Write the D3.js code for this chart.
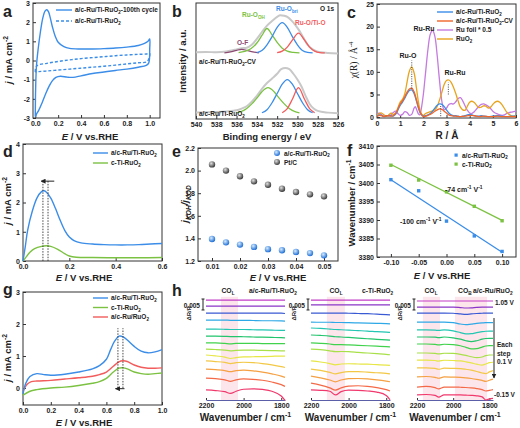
<!DOCTYPE html>
<html><head><meta charset="utf-8">
<script src="https://cdn.jsdelivr.net/npm/d3@7"></script>
<style>body{margin:0;background:#fff}svg{display:block}</style>
</head><body><svg id="fig" width="520" height="428"></svg>
<script>
// ================= DATA =================
// (a) CV curves [E, j]
const cvCycle100 = [[0.0,-2.9],[0.003,-1.5],[0.01,-0.3],[0.025,0.6],[0.045,1.5],[0.065,2.2],[0.085,2.58],[0.1,2.65],[0.115,2.55],[0.13,2.25],[0.15,1.75],[0.175,1.25],[0.2,0.95],[0.25,0.72],[0.3,0.63],[0.4,0.6],[0.5,0.6],[0.6,0.62],[0.7,0.65],[0.8,0.7],[0.9,0.78],[0.95,0.88],[0.985,1.0],[1.0,1.12],[1.0,0.6],[0.998,0.1],[0.99,-0.15],[0.97,-0.25],[0.9,-0.35],[0.8,-0.45],[0.7,-0.52],[0.6,-0.6],[0.5,-0.68],[0.4,-0.8],[0.33,-0.88],[0.28,-0.87],[0.22,-0.82],[0.18,-0.88],[0.15,-1.05],[0.12,-1.35],[0.09,-1.75],[0.06,-2.2],[0.03,-2.6],[0.01,-2.8],[0.0,-2.95]];
const cvInitial = [[0,-0.6],[0.003,-0.4],[0.02,-0.25],[0.1,-0.15],[0.2,-0.05],[0.3,0.03],[0.4,0.1],[0.5,0.15],[0.6,0.2],[0.7,0.25],[0.8,0.29],[0.9,0.32],[0.97,0.34],[1.0,0.36],[1.0,0.25],[0.99,0.05],[0.97,-0.08],[0.9,-0.12],[0.8,-0.18],[0.7,-0.24],[0.6,-0.3],[0.5,-0.35],[0.4,-0.4],[0.3,-0.45],[0.2,-0.5],[0.1,-0.55],[0.03,-0.58],[0,-0.6]];
const aXTicks = [0,0.2,0.4,0.6,0.8,1.0];
const aYTicks = [-3,-2,-1,0,1,2,3];

// (b) XPS O 1s [binding energy, intensity a.u.]
const xpsCVEnvelope = [[540,57.5],[539,57.8],[538,57.5],[537,58.2],[536.5,59],[536,60],[535.5,61],[535,61.5],[534.5,64],[534,69],[533.5,75],[533,80.5],[532.5,84.5],[532,88],[531.7,89.5],[531.3,89],[531,88],[530.6,85],[530.2,81],[529.8,76],[529.4,70],[529,64],[528.5,60],[528,58],[527,57],[526,56.5]];
const xpsCV_OF = [[537.2,57],[536.6,57.8],[536,59.2],[535.5,60],[535,59.2],[534.4,57.8],[533.8,57]];
const xpsCV_OH = [[535.8,57.2],[535.2,58.2],[534.6,60.5],[534,65.5],[533.5,72],[533,78],[532.5,72.5],[532,66],[531.5,61],[531,58.5],[530.4,57.4],[529.8,57]];
const xpsCV_bri = [[534,57.3],[533.5,59],[533,64],[532.5,71],[532,79],[531.5,83],[531,79],[530.5,71],[530,64],[529.5,59],[529,57.4],[528.5,57]];
const xpsCV_TiO = [[532,57.2],[531.5,58.5],[531,62],[530.5,68],[529.9,74],[529.3,68],[528.8,62],[528.3,58.5],[527.8,57.2],[527.3,57]];
const xpsEnvelope = [[540,5.5],[539,5.8],[538,6],[537,6.5],[536,7.5],[535.5,9],[535,11],[534.5,15],[534,20],[533.5,26],[533,31],[532.5,35],[532,39],[531.6,43],[531.2,44],[530.8,43],[530.4,39],[530,34],[529.6,28],[529.2,20],[528.8,13],[528.4,9],[528,7],[527,5.5],[526,5]];
const xps_OH = [[536,5.3],[535.5,6.5],[535,9],[534.5,13],[534,18],[533.5,23.5],[532.9,27],[532.3,23.5],[531.8,18],[531.3,13],[530.8,9],[530.3,6.5],[529.8,5.3]];
const xps_bri = [[533.5,5.4],[533,8],[532.5,14],[532,22],[531.5,30],[531,34],[530.5,30],[530,22],[529.5,14],[529,8],[528.5,5.4]];
const xps_TiO = [[531.5,5.4],[531,9],[530.5,17],[529.9,27],[529.3,17],[528.8,9],[528.3,5.4]];
const bXTicks = [540,538,536,534,532,530,528,526];

// (c) EXAFS chi(R) [R, chi]
const exRuTi = [[0,0.2],[0.1,0.5],[0.2,0.4],[0.3,0.1],[0.4,0.2],[0.5,0.4],[0.6,0.3],[0.7,0.2],[0.8,0.6],[0.9,1.5],[1.0,2.6],[1.1,3.3],[1.2,4.2],[1.3,5.2],[1.4,5.9],[1.5,6.0],[1.6,5.2],[1.7,3.6],[1.8,1.8],[1.9,0.6],[2.0,0.2],[2.1,0.3],[2.2,0.5],[2.3,0.8],[2.4,1.3],[2.5,2.0],[2.6,2.6],[2.7,2.9],[2.8,2.8],[2.9,2.3],[3.0,1.6],[3.1,0.9],[3.2,0.5],[3.3,0.3],[3.4,0.3],[3.5,0.2],[3.6,0.1],[3.7,0.2],[3.8,0.3],[3.9,0.5],[4.0,0.6],[4.1,0.5],[4.2,0.3],[4.3,0.2],[4.4,0.2],[4.5,0.3],[4.6,0.2],[4.8,0.1],[5.0,0.2],[5.2,0.3],[5.4,0.2],[5.6,0.1],[5.8,0.2],[6.0,0.2]];
const exRuTiCV = [[0,0.1],[0.1,0.4],[0.2,0.3],[0.3,0.1],[0.4,0.3],[0.5,0.3],[0.6,0.2],[0.7,0.3],[0.8,0.8],[0.9,1.8],[1.0,2.9],[1.1,3.6],[1.2,4.5],[1.3,5.5],[1.4,6.2],[1.5,6.4],[1.6,5.6],[1.7,3.9],[1.8,2.0],[1.9,0.7],[2.0,0.1],[2.1,0.2],[2.2,0.4],[2.3,0.6],[2.4,0.9],[2.5,1.3],[2.6,1.6],[2.7,1.8],[2.8,1.7],[2.9,1.3],[3.0,0.9],[3.1,0.5],[3.2,0.3],[3.3,0.2],[3.4,0.2],[3.6,0.1],[3.8,0.2],[4.0,0.4],[4.2,0.3],[4.4,0.1],[4.6,0.2],[4.8,0.1],[5.0,0.1],[5.2,0.2],[5.4,0.1],[5.6,0.1],[5.8,0.1],[6.0,0.1]];
const exRuFoil = [[0,0.6],[0.1,0.9],[0.2,0.5],[0.3,0.2],[0.4,0.3],[0.5,0.2],[0.6,0.5],[0.7,1.0],[0.8,1.3],[0.9,0.8],[1.0,0.4],[1.1,0.6],[1.2,1.2],[1.3,1.0],[1.4,0.4],[1.5,0.6],[1.6,2.0],[1.65,2.3],[1.7,1.8],[1.8,0.6],[1.85,0.5],[1.9,1.5],[2.0,5.0],[2.1,10.0],[2.2,15.0],[2.3,18.3],[2.4,19.2],[2.5,17.8],[2.6,13.5],[2.7,8.0],[2.8,3.5],[2.9,1.6],[3.0,2.0],[3.1,2.8],[3.2,3.0],[3.3,2.9],[3.4,3.4],[3.5,4.1],[3.6,4.3],[3.7,3.6],[3.8,2.5],[3.9,1.5],[4.0,0.9],[4.1,0.8],[4.2,1.2],[4.3,1.8],[4.4,2.4],[4.5,2.8],[4.6,2.9],[4.7,2.7],[4.8,2.4],[4.9,1.9],[5.0,1.3],[5.1,0.9],[5.2,0.7],[5.3,0.5],[5.4,0.4],[5.5,0.5],[5.6,0.8],[5.7,1.0],[5.8,1.1],[5.9,1.2],[6.0,1.3]];
const exRuO2 = [[0,0.3],[0.1,0.8],[0.2,0.9],[0.3,0.5],[0.4,0.1],[0.5,0.4],[0.6,0.9],[0.7,0.6],[0.8,0.8],[0.9,2.0],[1.0,3.3],[1.1,3.9],[1.2,5.2],[1.3,7.8],[1.4,10.2],[1.5,11.1],[1.6,9.8],[1.7,6.5],[1.8,3.0],[1.9,0.9],[2.0,0.4],[2.1,0.8],[2.2,1.0],[2.3,1.2],[2.4,1.4],[2.5,1.6],[2.6,2.4],[2.7,3.8],[2.8,5.5],[2.9,7.2],[3.0,8.1],[3.1,8.2],[3.2,7.7],[3.3,6.6],[3.4,5.2],[3.5,3.6],[3.6,2.2],[3.7,1.6],[3.8,1.5],[3.9,2.4],[4.0,3.3],[4.1,3.5],[4.2,3.2],[4.3,2.6],[4.4,2.1],[4.5,2.2],[4.6,2.5],[4.7,2.4],[4.8,2.0],[4.9,2.2],[5.0,2.8],[5.1,3.3],[5.2,3.5],[5.3,3.3],[5.4,2.7],[5.5,1.9],[5.6,1.1],[5.7,0.6],[5.8,0.3],[5.9,0.2],[6.0,0.3]];
const cMarks = [[1.5,6.3,12.5],[2.75,0.2,2.7],[3.08,5.0,7.6]];
const cXTicks = [0,1,2,3,4,5,6];
const cYTicks = [0,5,10,15,20,25];

// (d) HUPD region [E, j]
const dRuTi = [[0,0],[0.01,0.5],[0.02,1.05],[0.04,1.7],[0.06,2.15],[0.08,2.37],[0.09,2.4],[0.1,2.36],[0.12,2.15],[0.14,1.8],[0.16,1.4],[0.18,1.05],[0.2,0.82],[0.22,0.7],[0.25,0.62],[0.3,0.58],[0.35,0.56],[0.4,0.55],[0.45,0.55],[0.5,0.56],[0.55,0.58],[0.6,0.6]];
const dTiRuO2 = [[0,0],[0.01,0.1],[0.03,0.3],[0.05,0.42],[0.08,0.5],[0.1,0.52],[0.12,0.5],[0.15,0.4],[0.18,0.25],[0.2,0.17],[0.23,0.13],[0.3,0.12],[0.4,0.11],[0.5,0.11],[0.6,0.12]];
const dPeaks = [0.086,0.108];
const dXTicks = [0,0.2,0.4,0.6];
const dYTicks = [0,1,2,3,4];

// (e) KIE ratios
const ePotentials = [0.01,0.015,0.02,0.025,0.03,0.035,0.04,0.045,0.05];
const eRuTi = [1.395,1.365,1.345,1.325,1.305,1.295,1.28,1.27,1.25];
const ePtC = [2.055,2.0,1.95,1.905,1.875,1.84,1.81,1.79,1.772];
const eXTicks = [0.01,0.02,0.03,0.04,0.05];
const eYTicks = [1.2,1.4,1.6,1.8,2.0,2.2];

// (f) O-H stretch vs potential
const fPotentials = [-0.10,-0.05,0.00,0.05,0.10];
const fRuTi = [3400.9,3397.9,3389.7,3385.7,3381.5];
const fTiRuO2 = [3404.8,3400.8,3397.6,3393.7,3389.8];
const fFitRuTi = [[-0.10,3400.9],[0.10,3381.3]];
const fFitTiRuO2 = [[-0.10,3405.0],[0.10,3389.9]];
const fXTicks = [-0.10,-0.05,0.00,0.05,0.10];
const fYTicks = [3380,3385,3390,3395,3400,3405,3410];

// (g) CO stripping [E, j]
const gRuTi = [[0,-0.18],[0.02,0.15],[0.05,0.36],[0.1,0.45],[0.15,0.42],[0.2,0.4],[0.3,0.43],[0.4,0.5],[0.5,0.6],[0.55,0.7],[0.6,0.9],[0.63,1.2],[0.66,1.47],[0.69,1.62],[0.72,1.6],[0.75,1.5],[0.8,1.3],[0.85,1.15],[0.9,1.1],[0.95,1.13],[1.0,1.2]];
const gTiRuO2 = [[0,-0.22],[0.05,-0.1],[0.1,-0.05],[0.2,0.0],[0.3,0.03],[0.4,0.08],[0.5,0.15],[0.55,0.2],[0.6,0.3],[0.65,0.5],[0.69,0.62],[0.72,0.63],[0.75,0.6],[0.8,0.5],[0.85,0.45],[0.9,0.43],[0.95,0.45],[1.0,0.47]];
const gRuRuO2 = [[0,-0.1],[0.03,0.12],[0.06,0.2],[0.1,0.22],[0.2,0.24],[0.3,0.28],[0.4,0.32],[0.5,0.37],[0.55,0.42],[0.6,0.5],[0.65,0.68],[0.69,0.82],[0.72,0.85],[0.75,0.83],[0.8,0.72],[0.85,0.65],[0.9,0.62],[0.95,0.62],[1.0,0.63]];
const gPeaks = [0.683,0.719];
const gXTicks = [0,0.2,0.4,0.6,0.8,1.0];
const gYTicks = [0,1,2,3];

// (h) in-situ IR spectra, dR/R in units of 0.001, potentials 1.05 -> -0.15 V
const hPotentials = [1.05,0.95,0.85,0.75,0.65,0.55,0.45,0.35,0.25,0.15,0.05,-0.05,-0.15];
const hGrid = [2200,2150,2100,2070,2040,2000,1950,1900,1850,1800,1780];
const hOffsetRuTi = [45.5,42.8,39.6,36.4,32.3,29.1,26.0,23.2,20.5,17.8,14.1,10.0,4.6];
const hSpecRuTi = [
 [0,0,0,0,0,0,0,0,0,0,0],
 [0,0,0,0,0,0,0,0,0,0,0],
 [0,0,0,0,0,0,0,0,0,0,-0.2],
 [0,0,0,-0.1,-0.1,-0.1,-0.2,-0.3,-0.3,-0.4,-0.5],
 [0,0,-0.1,-0.2,-0.2,-0.2,-0.3,-0.4,-0.5,-0.6,-0.6],
 [0,0,-0.1,-0.2,-0.2,-0.3,-0.4,-0.5,-0.6,-0.7,-0.8],
 [0,0,-0.2,-0.4,-0.2,-0.2,-0.2,-0.3,-0.3,-0.3,-0.3],
 [0,-0.2,-0.5,-0.8,-0.6,-0.5,-0.5,-0.6,-0.7,-0.8,-0.8],
 [0,-0.4,-1.0,-1.6,-1.2,-0.9,-0.8,-0.7,-0.6,-0.5,-0.5],
 [0,-0.3,-0.7,-1.2,-0.8,-0.6,-0.8,-1.2,-1.8,-2.6,-3.0],
 [0,-0.3,-0.7,-1.2,-0.7,-0.5,-0.8,-1.4,-2.2,-3.2,-3.8],
 [0,-0.3,-0.8,-1.5,-0.8,-0.4,-0.6,-1.0,-1.8,-3.0,-3.8],
 [0,-0.3,-0.8,-1.6,-0.6,0.3,0.5,0.2,-0.6,-2.8,-4.8]];
const hOffsetTiRuO2 = [45.5,43.3,39.6,35.5,32.8,29.6,26.0,23.2,17.8,14.1,10.9,7.7,4.6];
const hSpecTiRuO2 = [
 [0,0,0,0,0,0,0,0,0,0,0],
 [0,0,0,0,0,0,0,0,0,0,0],
 [0,0,0,0,0,-0.1,-0.2,-0.3,-0.5,-0.7,-0.8],
 [0,-0.1,-0.1,-0.2,-0.2,-0.3,-0.4,-0.5,-0.6,-0.7,-0.8],
 [0,-0.2,-0.5,-0.7,-0.8,-1.0,-1.2,-1.4,-1.7,-1.9,-2.0],
 [0,-0.2,-0.5,-0.8,-0.9,-1.1,-1.4,-1.7,-2.0,-2.2,-2.3],
 [0,-0.2,-0.5,-0.8,-0.8,-0.9,-1.1,-1.3,-1.5,-1.7,-1.8],
 [0,-0.3,-0.8,-1.2,-1.1,-1.2,-1.5,-1.8,-2.1,-2.4,-2.6],
 [0,-0.5,-1.2,-1.8,-1.4,-1.3,-1.4,-1.5,-1.7,-1.9,-2.0],
 [0,-0.6,-1.5,-2.2,-1.6,-1.2,-1.2,-1.4,-1.7,-2.0,-2.2],
 [0,-0.8,-1.8,-2.6,-1.8,-1.2,-1.1,-1.3,-1.7,-2.3,-2.6],
 [0,-0.9,-2.2,-3.2,-2.2,-1.4,-1.2,-1.5,-2.1,-3.0,-3.6],
 [0,-0.2,-0.6,-2.3,-0.8,-0.1,-0.2,-0.5,-1.0,-2.5,-4.5]];
const hGrid3 = [2200,2150,2100,2080,2050,2000,1960,1930,1900,1870,1840,1820,1800,1780];
const hOffsetRuRuO2 = [45.1,42.3,39.6,35.5,31.9,28.7,25.5,21.4,18.2,14.6,10.5,5.9,2.3];
const hSpecRuRuO2 = [
 [0,0,0,0,0,0,0,0,0,0,0,0,0,0],
 [0,0,0,0,0,0,-0.2,-0.4,-0.3,-0.1,0,0,0,0],
 [0,0,0,0,0,-0.1,-0.4,-0.6,-0.4,-0.2,-0.1,0,0,0],
 [0,0,0,0,0,-0.3,-0.9,-1.2,-0.9,-0.6,-0.4,-0.3,-0.3,-0.3],
 [0,0,-0.1,-0.2,0,-0.4,-1.2,-1.8,-1.7,-1.2,-0.8,-0.6,-0.5,-0.5],
 [0,0,-0.1,-0.3,0,-0.4,-1.0,-1.7,-2.1,-1.7,-1.0,-0.7,-0.6,-0.6],
 [0,0,-0.2,-0.4,-0.1,-0.3,-0.8,-1.5,-2.2,-2.1,-1.4,-0.9,-0.7,-0.7],
 [0,0,-0.2,-0.4,-0.1,-0.2,-0.6,-1.1,-1.7,-2.1,-1.8,-1.2,-0.9,-0.9],
 [0,0,-0.2,-0.5,-0.1,-0.2,-0.4,-0.8,-1.3,-1.9,-2.3,-1.8,-1.2,-1.0],
 [0,0,-0.2,-0.6,-0.1,-0.2,-0.3,-0.6,-1.0,-1.6,-2.3,-2.6,-1.8,-1.2],
 [0,0.2,-0.2,-0.6,0,-0.1,-0.2,-0.4,-0.7,-1.1,-1.6,-2.0,-1.5,-1.0],
 [0,0.3,-0.3,-0.8,0,0,-0.1,-0.2,-0.4,-0.7,-1.2,-1.8,-1.5,-1.2],
 [0,0.2,-0.2,-1.0,0,0,0,-0.1,-0.2,-0.4,-0.9,-2.3,-1.8,-1.6]];
const hBandsRuTi = [[2120,2030]];
const hBandsTiRuO2 = [[2115,2020]];
const hBandsRuRuO2 = [[2167,2073],[1990,1813]];
const hXTicks = [2200,2000,1800];

// ================= STYLE =================
const FONT = "'Liberation Sans', Arial, sans-serif";
const BLUE = '#3b8de8', GREEN = '#7cc242', RED = '#f25c5c', ORANGE = '#f0642a', PURPLE = '#c47ade', GOLD = '#e8a41c';
const hColors = ['#c23cc6','#8a36c8','#3a5ad4','#2ea8e6','#22c6b2','#22c46c','#40d24c','#a8e04a','#e6e646','#f2c846','#f5a042','#f46a48','#f0386c'];

const svg = d3.select('#fig');
svg.append('rect').attr('width',520).attr('height',428).attr('fill','#fff');
const defs = svg.append('defs');
defs.append('marker').attr('id','arr').attr('viewBox','0 0 10 10').attr('refX',9).attr('refY',5)
  .attr('markerWidth',5).attr('markerHeight',5).attr('orient','auto-start-reverse')
  .append('path').attr('d','M0,0L10,5L0,10z').attr('fill','#222');
function grad(id, c0, c1){
  const g = defs.append('radialGradient').attr('id',id).attr('cx','38%').attr('cy','35%').attr('r','65%');
  g.append('stop').attr('offset','0%').attr('stop-color',c0);
  g.append('stop').attr('offset','100%').attr('stop-color',c1);
}
grad('gBlue','#d6ecff','#1f6fd6'); grad('gGray','#e0e0e0','#3a3a3a');

function rich(t, s, fs){
  const re = /(_\{[^}]*\}|\^\{[^}]*\}|~\{[^}]*\})/;
  let cur = 0;
  s.split(re).filter(Boolean).forEach(p => {
    let target = 0, size = fs, content = p, it = false;
    if (p.startsWith('_{')) { target = fs*0.3; size = fs*0.7; content = p.slice(2,-1); }
    else if (p.startsWith('^{')) { target = -fs*0.4; size = fs*0.7; content = p.slice(2,-1); }
    else if (p.startsWith('~{')) { it = true; content = p.slice(2,-1); }
    const ts = t.append('tspan').attr('dy', target-cur).attr('font-size', size).text(content);
    if (it) ts.attr('font-style','italic');
    cur = target;
  });
}
function txt(x, y, s, o={}){
  const fs = o.fs || 7;
  const t = svg.append('text').attr('font-family', o.family || FONT).attr('font-weight', o.weight || 'bold')
    .attr('fill', o.fill || '#222').attr('font-size', fs).attr('text-anchor', o.anchor || 'start');
  if (o.rot) t.attr('transform', `translate(${x},${y}) rotate(${o.rot})`);
  else t.attr('x', x).attr('y', y);
  if (o.italic) t.attr('font-style','italic');
  rich(t, s, fs);
  return t;
}
function axes(x, y, o){
  const g = svg.append('g');
  const xr = x.range(), yr = y.range();
  const L = Math.min(...xr), R = Math.max(...xr), B = Math.max(...yr), T = Math.min(...yr);
  const ax = g.append('g').attr('transform',`translate(0,${B})`)
    .call(d3.axisBottom(x).tickValues(o.xt).tickFormat(o.xf).tickSize(-3).tickSizeOuter(0).tickPadding(3));
  ax.select('.domain').remove();
  if (o.yt) {
    const ay = g.append('g').attr('transform',`translate(${L},0)`)
      .call(d3.axisLeft(y).tickValues(o.yt).tickFormat(o.yf).tickSize(-3).tickSizeOuter(0).tickPadding(3));
    ay.select('.domain').remove();
  }
  g.selectAll('.tick text').attr('font-size',7).attr('font-weight','bold').attr('font-family',FONT).attr('fill','#222');
  g.selectAll('.tick line').attr('stroke','#333');
  g.append('rect').attr('x',L).attr('y',T).attr('width',R-L).attr('height',B-T)
    .attr('fill','none').attr('stroke','#333').attr('stroke-width',1);
  return g;
}
function curve(data, x, y, color, o={}){
  const line = d3.line().x(d=>x(d[0])).y(d=>y(d[1])).curve(o.curve || d3.curveCatmullRom.alpha(0.5));
  const p = svg.append('path').datum(data).attr('d', line).attr('fill','none')
    .attr('stroke', color).attr('stroke-width', o.w || 1.3).attr('stroke-linejoin','round');
  if (o.dash) p.attr('stroke-dasharray', o.dash);
  return p;
}
function legendLine(x0, x1, y, color, label, o={}){
  const l = svg.append('line').attr('x1',x0).attr('x2',x1).attr('y1',y).attr('y2',y)
    .attr('stroke',color).attr('stroke-width',1.4);
  if (o.dash) l.attr('stroke-dasharray', o.dash);
  txt(x1+3, y+2.3, label, {fs:6.5});
}
const f1 = d=>d.toFixed(1), f2 = d=>d.toFixed(2), f0 = d=>String(d);

// panel letters
[['a',3,17],['b',172,17],['c',347,18],['d',3,157],['e',172,157],['f',347,156],['g',3,295],['h',172,296]]
  .forEach(([s,x,y]) => txt(x, y, s, {fs:16}));

// ================= (a) =================
{
  const x = d3.scaleLinear().domain([-0.02,1.09]).range([33,160]);
  const y = d3.scaleLinear().domain([-3,3]).range([118,3]);
  axes(x, y, {xt:aXTicks, xf:f1, yt:aYTicks, yf:f0});
  curve(cvInitial, x, y, BLUE, {dash:'3,2', w:1.4});
  curve(cvCycle100, x, y, BLUE, {w:1.4});
  legendLine(56, 72, 10, BLUE, 'a/c-Ru/Ti-RuO_{2}-100th cycle');
  legendLine(56, 72, 21, BLUE, 'a/c-Ru/Ti-RuO_{2}', {dash:'3,2'});
  txt(12, 60, '~{j} / mA cm^{-2}', {fs:9.5, rot:-90, anchor:'middle'});
  txt(90, 140, '~{E} / V vs.RHE', {fs:9.5, anchor:'middle'});
}
// ================= (b) =================
{
  const x = d3.scaleLinear().domain([540,526]).range([196,338]);
  const y = d3.scaleLinear().domain([0,100]).range([119,3]);
  axes(x, y, {xt:bXTicks, xf:f0});
  const srt = a => a.slice().sort((p,q)=>p[0]-q[0]);
  const mono = {curve: d3.curveMonotoneX};
  curve(srt(xpsCVEnvelope), x, y, '#c8c8c8', {w:2, curve:d3.curveMonotoneX});
  curve(srt(xpsEnvelope), x, y, '#c8c8c8', {w:2, curve:d3.curveMonotoneX});
  curve(srt(xpsCV_OF), x, y, '#8c4a72', {w:1.2, curve:d3.curveMonotoneX});
  curve(srt(xpsCV_OH), x, y, GREEN, {w:1.3, curve:d3.curveMonotoneX});
  curve(srt(xpsCV_bri), x, y, BLUE, {w:1.3, curve:d3.curveMonotoneX});
  curve(srt(xpsCV_TiO), x, y, RED, {w:1.3, curve:d3.curveMonotoneX});
  curve(srt(xps_OH), x, y, GREEN, {w:1.3, curve:d3.curveMonotoneX});
  curve(srt(xps_bri), x, y, BLUE, {w:1.3, curve:d3.curveMonotoneX});
  curve(srt(xps_TiO), x, y, RED, {w:1.3, curve:d3.curveMonotoneX});
  txt(334, 11, 'O 1s', {fs:6.5, anchor:'end'});
  txt(276, 11, 'Ru-O_{bri}', {fs:6.5, fill:BLUE});
  txt(242, 17, 'Ru-O_{OH}', {fs:6.5, fill:GREEN});
  txt(295, 25, 'Ru-O/Ti-O', {fs:6.5, fill:RED});
  txt(237, 45, 'O-F', {fs:6.5, fill:'#8c4a72'});
  txt(199, 64, 'a/c-Ru/Ti-RuO_{2}-CV', {fs:6.5});
  txt(199, 116, 'a/c-Ru/Ti-RuO_{2}', {fs:6.5});
  txt(186, 61, 'Intensity / a.u.', {fs:9.5, rot:-90, anchor:'middle'});
  txt(267, 140, 'Binding energy / eV', {fs:9.5, anchor:'middle'});
}
// ================= (c) =================
{
  const x = d3.scaleLinear().domain([0,6]).range([377,516]);
  const y = d3.scaleLinear().domain([-0.2,25]).range([118,4]);
  axes(x, y, {xt:cXTicks, xf:f0, yt:cYTicks, yf:f0});
  curve(exRuFoil, x, y, PURPLE, {w:1.3});
  curve(exRuO2, x, y, GOLD, {w:1.3});
  curve(exRuTi, x, y, BLUE, {w:1.3});
  curve(exRuTiCV, x, y, ORANGE, {w:1.3});
  cMarks.forEach(m => svg.append('line').attr('x1',x(m[0])).attr('x2',x(m[0])).attr('y1',y(m[1])).attr('y2',y(m[2]))
    .attr('stroke','#333').attr('stroke-width',0.9).attr('stroke-dasharray','1,1.3'));
  txt(408, 58, 'Ru-O', {fs:7, anchor:'middle'});
  txt(424, 31, 'Ru-Ru', {fs:7, anchor:'middle'});
  txt(455, 75, 'Ru-Ru', {fs:7, anchor:'middle'});
  legendLine(437, 453, 12, BLUE, 'a/c-Ru/Ti-RuO_{2}');
  legendLine(437, 453, 21, ORANGE, 'a/c-Ru/Ti-RuO_{2}-CV');
  legendLine(437, 453, 30, PURPLE, 'Ru foil * 0.5');
  legendLine(437, 453, 39, GOLD, 'RuO_{2}');
  txt(357, 60, 'χ(R) / Å^{-4}', {fs:9.5, rot:-90, anchor:'middle', family:"'Liberation Serif', 'Times New Roman', serif", weight:'normal'});
  txt(447, 139, 'R / Å', {fs:10, anchor:'middle'});
}
// ================= (d) =================
{
  const x = d3.scaleLinear().domain([0,0.6]).range([23,162]);
  const y = d3.scaleLinear().domain([0,4]).range([261,144]);
  axes(x, y, {xt:dXTicks, xf:f1, yt:dYTicks, yf:f0});
  curve(dTiRuO2, x, y, GREEN, {w:1.4});
  curve(dRuTi, x, y, BLUE, {w:1.4});
  dPeaks.forEach(p => svg.append('line').attr('x1',x(p)).attr('x2',x(p)).attr('y1',y(0)).attr('y2',y(2.78))
    .attr('stroke','#333').attr('stroke-width',0.9).attr('stroke-dasharray','1.5,1.3'));
  svg.append('line').attr('x1',x(0.135)).attr('x2',x(0.078)).attr('y1',y(2.73)).attr('y2',y(2.73))
    .attr('stroke','#222').attr('stroke-width',1).attr('marker-end','url(#arr)');
  legendLine(93, 108, 153, BLUE, 'a/c-Ru/Ti-RuO_{2}');
  legendLine(93, 108, 163, GREEN, 'c-Ti-RuO_{2}');
  txt(11, 201, '~{j} / mA cm^{-2}', {fs:9.5, rot:-90, anchor:'middle'});
  txt(84, 281, '~{E} / V vs.RHE', {fs:9.5, anchor:'middle'});
}
// ================= (e) =================
{
  const x = d3.scaleLinear().domain([0.005,0.055]).range([198,338]);
  const y = d3.scaleLinear().domain([1.2,2.2]).range([261,148]);
  axes(x, y, {xt:eXTicks, xf:f2, yt:eYTicks, yf:f1});
  svg.append('g').selectAll('circle').data(ePotentials.map((p,i)=>[p,ePtC[i]])).join('circle')
    .attr('cx',d=>x(d[0])).attr('cy',d=>y(d[1])).attr('r',3.2).attr('fill','url(#gGray)');
  svg.append('g').selectAll('circle').data(ePotentials.map((p,i)=>[p,eRuTi[i]])).join('circle')
    .attr('cx',d=>x(d[0])).attr('cy',d=>y(d[1])).attr('r',3.2).attr('fill','url(#gBlue)');
  svg.append('circle').attr('cx',277).attr('cy',153).attr('r',3).attr('fill','url(#gBlue)');
  svg.append('circle').attr('cx',277).attr('cy',162).attr('r',3).attr('fill','url(#gGray)');
  txt(284, 155.5, 'a/c-Ru/Ti-RuO_{2}', {fs:6.5});
  txt(284, 164.5, 'Pt/C', {fs:6.5});
  txt(188, 204, 'j_{KOH}/j_{KOD}', {fs:9.5, rot:-90, anchor:'middle', italic:true});
  txt(278, 281, '~{E} / V vs.RHE', {fs:9.5, anchor:'middle'});
}
// ================= (f) =================
{
  const x = d3.scaleLinear().domain([-0.125,0.125]).range([377,516]);
  const y = d3.scaleLinear().domain([3380,3410]).range([257,146]);
  axes(x, y, {xt:fXTicks, xf:f2, yt:fYTicks, yf:f0});
  curve(fFitTiRuO2, x, y, GREEN, {w:1.3, curve:d3.curveLinear});
  curve(fFitRuTi, x, y, BLUE, {w:1.3, curve:d3.curveLinear});
  const sq = (vals, c) => svg.append('g').selectAll('rect').data(fPotentials.map((p,i)=>[p,vals[i]])).join('rect')
    .attr('x',d=>x(d[0])-1.7).attr('y',d=>y(d[1])-1.7).attr('width',3.4).attr('height',3.4).attr('fill',c);
  sq(fTiRuO2, GREEN); sq(fRuTi, BLUE);
  svg.append('rect').attr('x',454.5).attr('y',153.5).attr('width',3.2).attr('height',3.2).attr('fill',BLUE);
  svg.append('rect').attr('x',454.5).attr('y',162.5).attr('width',3.2).attr('height',3.2).attr('fill',GREEN);
  txt(462, 157.5, 'a/c-Ru/Ti-RuO_{2}', {fs:6.5});
  txt(462, 166.5, 'c-Ti-RuO_{2}', {fs:6.5});
  txt(445, 192, '-74 cm^{-1} V^{-1}', {fs:7});
  txt(400, 224, '-100 cm^{-1} V^{-1}', {fs:7});
  txt(355, 203, 'Wavenumber / cm^{-1}', {fs:9.5, rot:-90, anchor:'middle'});
  txt(442, 279, '~{E} / V vs.RHE', {fs:9.5, anchor:'middle'});
}
// ================= (g) =================
{
  const x = d3.scaleLinear().domain([0,1]).range([23,162]);
  const y = d3.scaleLinear().domain([-0.53,3]).range([405,292]);
  axes(x, y, {xt:gXTicks, xf:f1, yt:gYTicks, yf:f0});
  curve(gTiRuO2, x, y, GREEN, {w:1.4});
  curve(gRuRuO2, x, y, RED, {w:1.4});
  curve(gRuTi, x, y, BLUE, {w:1.4});
  gPeaks.forEach(p => svg.append('line').attr('x1',x(p)).attr('x2',x(p)).attr('y1',y(0)).attr('y2',y(1.87))
    .attr('stroke','#333').attr('stroke-width',0.9).attr('stroke-dasharray','1.5,1.3'));
  svg.append('line').attr('x1',x(0.73)).attr('x2',x(0.665)).attr('y1',y(-0.02)).attr('y2',y(-0.02))
    .attr('stroke','#222').attr('stroke-width',1).attr('marker-end','url(#arr)');
  legendLine(93, 108, 298, BLUE, 'a/c-Ru/Ti-RuO_{2}');
  legendLine(93, 108, 307.5, GREEN, 'c-Ti-RuO_{2}');
  legendLine(93, 108, 317, RED, 'a/c-Ru/RuO_{2}');
  txt(11, 358, '~{j} / mA cm^{-2}', {fs:9.5, rot:-90, anchor:'middle'});
  txt(84, 426, '~{E} / V vs.RHE', {fs:9.5, anchor:'middle'});
}
// ================= (h) =================
{
  const hy = d3.scaleLinear().domain([0,46]).range([400,299]);
  function sub(x0, x1, grid, offsets, spectra, bands, o){
    const x = d3.scaleLinear().domain([2200,1780]).range([x0,x1]);
    bands.forEach(b => svg.append('rect').attr('x',x(b[0])).attr('width',x(b[1])-x(b[0]))
      .attr('y',hy(47)).attr('height',hy(0)-hy(47)).attr('fill','#fbe1e8').attr('opacity',0.85));
    const g = svg.append('g').attr('transform','translate(0,400)')
      .call(d3.axisBottom(x).tickValues(hXTicks).tickFormat(f0).tickSize(-2).tickSizeOuter(0).tickPadding(3));
    g.select('.domain').attr('stroke','#5b5fa8').attr('stroke-width',1.2);
    g.selectAll('.tick line').attr('stroke','#333');
    g.selectAll('.tick text').attr('font-size',7).attr('font-weight','bold').attr('font-family',FONT).attr('fill','#222');
    spectra.forEach((s,i) => curve(grid.map((w,j)=>[w, offsets[i]+s[j]]), x, hy, hColors[i], {w:1.2, curve:d3.curveMonotoneX}));
    const bx = x0 - 3;
    svg.append('path').attr('d',`M${bx+1.5},${hy(46)}H${bx}V${hy(41)}H${bx+1.5}M${bx-1.5},${hy(46)}H${bx}M${bx-1.5},${hy(41)}H${bx}`)
      .attr('fill','none').attr('stroke','#222').attr('stroke-width',1);
    txt(bx-3, hy(43.2)+2.5, '0.005', {fs:6.5, anchor:'end'});
    txt(bx-12, hy(39.5), 'ΔR/R', {fs:6, rot:-90, anchor:'middle'});
    txt((x0+x1)/2, 421, 'Wavenumber / cm^{-1}', {fs:10, anchor:'middle'});
    o.titles.forEach(t => txt(t[0], 293, t[1], {fs:6.8, anchor:t[2]||'start'}));
    return x;
  }
  sub(206, 285, hGrid, hOffsetRuTi, hSpecRuTi, hBandsRuTi, {titles:[[228,'CO_{L}','middle'],[249,'a/c-Ru/Ti-RuO_{2}']]});
  sub(311, 390, hGrid, hOffsetTiRuO2, hSpecTiRuO2, hBandsTiRuO2, {titles:[[336,'CO_{L}','middle'],[362,'c-Ti-RuO_{2}']]});
  sub(417, 493, hGrid3, hOffsetRuRuO2, hSpecRuRuO2, hBandsRuRuO2, {titles:[[431,'CO_{L}','middle'],[458,'CO_{B}'],[473,'a/c-Ru/RuO_{2}']]});
  txt(495, 305, hPotentials[0].toFixed(2)+' V', {fs:6.5});
  txt(494, 397, hPotentials[hPotentials.length-1].toFixed(2)+' V', {fs:6.5});
  svg.append('line').attr('x1',494).attr('x2',494).attr('y1',318).attr('y2',378)
    .attr('stroke','#222').attr('stroke-width',1).attr('marker-end','url(#arr)');
  txt(497, 347, 'Each', {fs:6.5});
  txt(497, 355.5, 'step', {fs:6.5});
  txt(497, 364, '0.1 V', {fs:6.5});
}
</script></body></html>
